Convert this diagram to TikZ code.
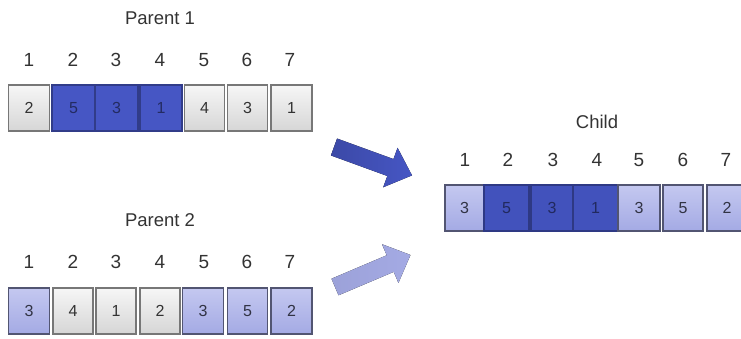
\documentclass[tikz,border=0pt]{standalone}
\usepackage{fontspec}
\setmainfont{Liberation Sans}
\definecolor{dblue}{HTML}{4656C4}
\definecolor{ddblue}{HTML}{4252BC}
\definecolor{lblue}{HTML}{A4AAE4}
\definecolor{lbluetop}{HTML}{C4C8F0}
\definecolor{gtop}{HTML}{F6F6F6}
\definecolor{gbot}{HTML}{D6D6D6}
\definecolor{bord}{HTML}{777777}
\definecolor{txt}{HTML}{333333}
\begin{document}
\begin{tikzpicture}[x=1pt,y=-1pt,
  cell/.style={draw=bord,line width=1.4pt,minimum height=46pt,inner sep=0pt,font=\fontsize{16}{16}\selectfont,text=txt},
  gcell/.style={cell,top color=gtop,bottom color=gbot,minimum width=41pt},
  bcell/.style={cell,fill=dblue,draw=dblue!70!black,text=dblue!50!black,minimum width=42pt},
  dcell/.style={cell,fill=ddblue,draw=ddblue!70!black,text=ddblue!50!black,minimum width=43pt},
  lcell/.style={cell,top color=lbluetop,bottom color=lblue,draw=lblue!50!black,text=lblue!30!black,minimum width=41pt},
  idx/.style={font=\fontsize{19}{19}\selectfont,text=txt},
  ttl/.style={font=\fontsize{18.5}{18.5}\selectfont,text=txt}]
\useasboundingbox (0,0) rectangle (741,338);
% Parent 1
\node[ttl] (t1) at (160,18) {Parent 1};
\foreach \i/\x in {1/29,2/73,3/116,4/160,5/204,6/247,7/290}
  \node[idx] (p1i\i) at (\x,60) {\i};
\node[gcell] (p1c1) at (29,108) {2};
\node[bcell,minimum width=43pt] (p1c2) at (73.5,108) {5};
\node[bcell,minimum width=43pt] (p1c3) at (116.5,108) {3};
\node[bcell] (p1c4) at (161,108) {1};
\node[gcell,minimum width=40pt] (p1c5) at (204.5,108) {4};
\node[gcell,minimum width=40pt] (p1c6) at (247.5,108) {3};
\node[gcell] (p1c7) at (291.5,108) {1};
% Parent 2
\node[ttl] (t2) at (160,220) {Parent 2};
\foreach \i/\x in {1/29,2/73,3/116,4/160,5/204,6/247,7/290}
  \node[idx] (p2i\i) at (\x,262) {\i};
\node[lcell] (p2c1) at (29,311) {3};
\node[gcell,minimum width=40pt] (p2c2) at (73,311) {4};
\node[gcell,minimum width=40pt] (p2c3) at (116,311) {1};
\node[gcell,minimum width=40pt] (p2c4) at (160,311) {2};
\node[lcell] (p2c5) at (203,311) {3};
\node[lcell,minimum width=40pt] (p2c6) at (247.5,311) {5};
\node[lcell] (p2c7) at (291.5,311) {2};
% Child
\node[ttl] (t3) at (597,122) {Child};
\foreach \i/\x in {1/465,2/508,3/553,4/597,5/639,6/683,7/726}
  \node[idx] (ci\i) at (\x,160) {\i};
\node[lcell,minimum width=39pt] (cc1) at (464.5,208) {3};
\node[dcell,minimum width=45pt] (cc2) at (506.5,208) {5};
\node[dcell,minimum width=42pt] (cc3) at (552,208) {3};
\node[dcell,minimum width=45pt] (cc4) at (595.5,208) {1};
\node[lcell,minimum width=42pt] (cc5) at (639,208) {3};
\node[lcell,minimum width=40pt] (cc6) at (683,208) {5};
\node[lcell,minimum width=40pt] (cc7) at (727,208) {2};
% Arrows
\begin{scope}[shift={(334,147)},rotate=-20]
  \fill[left color=dblue!85!black,right color=dblue] (0,-9) -- (60,-9) -- (60,-21) -- (83,0) -- (60,21) -- (60,9) -- (0,9) -- cycle;
\end{scope}
\begin{scope}[shift={(335,287)},rotate=23]
  \fill[left color=lblue!95!black,right color=lblue] (0,-9) -- (60,-9) -- (60,-21) -- (82,0) -- (60,21) -- (60,9) -- (0,9) -- cycle;
\end{scope}
\end{tikzpicture}
\end{document}
